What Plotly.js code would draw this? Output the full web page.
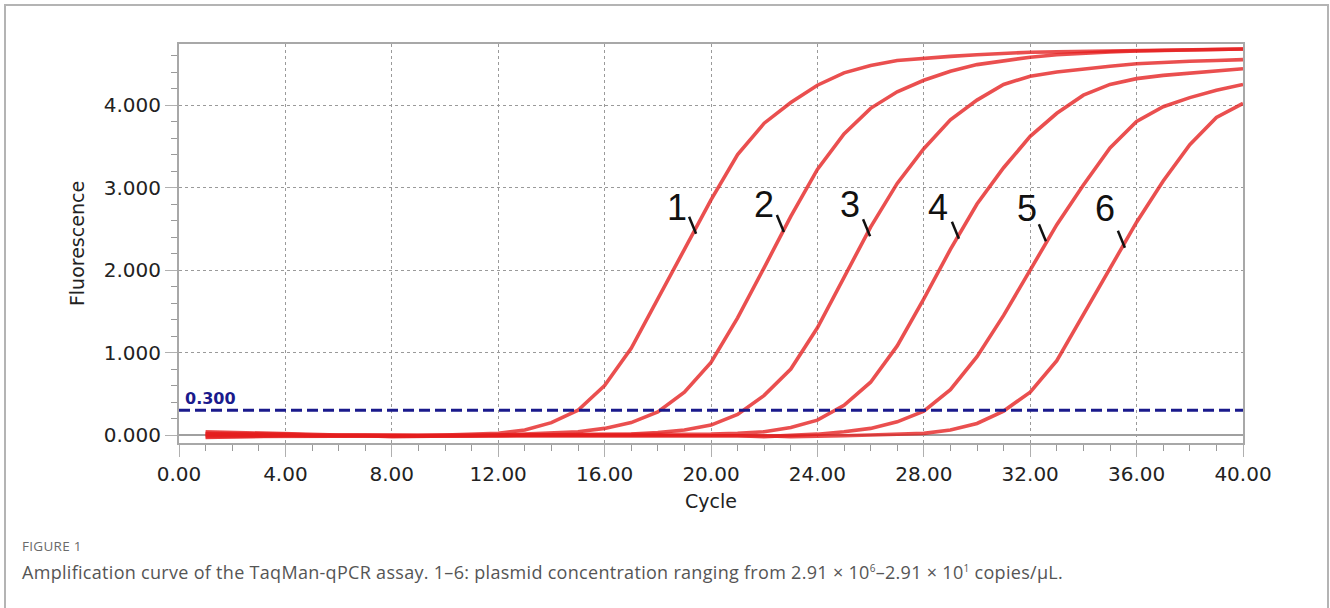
<!DOCTYPE html>
<html>
<head>
<meta charset="utf-8">
<script src="https://cdn.plot.ly/plotly-3.0.1.min.js"></script>
<style>
  html, body { margin:0; padding:0; background:#fff; overflow:hidden; }
  #wrap { position:relative; width:1330px; height:608px; }
  #chart { position:absolute; left:0; top:0; width:1330px; height:608px; }
  #frame { position:absolute; left:4px; top:4px; width:1321px; height:700px; border:2px solid #b4b4b4; pointer-events:none; }
  .cap1 { position:absolute; left:22px; top:537px; font-family:'Open Sans',sans-serif; font-size:13.5px; color:#6a6a6a; letter-spacing:0.3px; }
  .cap2 { position:absolute; left:22px; top:560px; font-family:'Open Sans',sans-serif; font-size:18px; color:#555; white-space:nowrap; letter-spacing:0.3px; }
  .cap2 sup { font-size:10px; vertical-align:7px; line-height:0; }
</style>
</head>
<body>
<div id="wrap">
  <div id="chart"></div>
  <div id="frame"></div>
  <div class="cap1">FIGURE 1</div>
  <div class="cap2">Amplification curve of the TaqMan-qPCR assay. 1–6: plasmid concentration ranging from 2.91 × 10<sup>6</sup>–2.91 × 10<sup>1</sup> copies/μL.</div>
</div>
<script>
// ---- data ----
const cycles = [1,2,3,4,5,6,7,8,9,10,11,12,13,14,15,16,17,18,19,20,21,22,23,24,25,26,27,28,29,30,31,32,33,34,35,36,37,38,39,40];

const curve1 = [0.04,0.03,0.02,0.01,0.01,0.00,0.00,-0.01,-0.01,0.00,0.01,0.02,0.06,0.15,0.30,0.60,1.05,1.65,2.25,2.85,3.40,3.78,4.03,4.24,4.39,4.48,4.54,4.57,4.59,4.61,4.63,4.64,4.645,4.65,4.655,4.66,4.665,4.67,4.675,4.68];
const curve2 = [0.02,0.02,0.01,0.01,0.00,0.00,-0.01,-0.01,-0.01,-0.01,0.00,0.00,0.01,0.02,0.04,0.08,0.15,0.28,0.52,0.88,1.42,2.03,2.65,3.22,3.65,3.96,4.16,4.30,4.41,4.49,4.54,4.58,4.61,4.63,4.645,4.655,4.66,4.67,4.675,4.68];
const curve3 = [0.00,0.00,0.00,0.00,0.00,-0.01,-0.01,-0.02,-0.02,-0.01,-0.01,0.00,0.00,0.00,0.00,0.00,0.01,0.03,0.06,0.12,0.25,0.48,0.80,1.30,1.90,2.52,3.05,3.47,3.82,4.06,4.25,4.35,4.40,4.44,4.47,4.50,4.52,4.53,4.54,4.55];
const curve4 = [-0.02,-0.02,-0.01,-0.01,-0.01,-0.01,-0.02,-0.02,-0.02,-0.02,-0.01,-0.01,0.00,0.00,0.00,0.00,0.00,0.00,0.00,0.01,0.02,0.04,0.09,0.18,0.36,0.64,1.08,1.65,2.25,2.80,3.24,3.62,3.90,4.12,4.25,4.32,4.36,4.39,4.42,4.44];
const curve5 = [-0.03,-0.02,-0.02,-0.01,-0.01,-0.01,-0.01,-0.01,-0.01,-0.01,-0.01,-0.01,-0.01,0.00,0.00,0.00,0.00,0.00,0.00,0.00,-0.01,-0.02,-0.01,0.01,0.04,0.08,0.16,0.29,0.55,0.95,1.45,2.00,2.55,3.03,3.48,3.80,3.98,4.09,4.18,4.25];
const curve6 = [0.01,0.01,0.00,0.00,-0.01,-0.01,-0.01,-0.01,-0.01,0.00,0.00,0.00,0.00,0.00,0.00,0.00,0.00,0.00,0.00,0.00,-0.01,-0.01,-0.02,-0.02,-0.01,0.00,0.01,0.02,0.06,0.14,0.29,0.52,0.90,1.46,2.02,2.58,3.08,3.52,3.85,4.02];

const thresholdX = [0, 40];
const thresholdY = [0.3, 0.3];
const thresholdLabel = '0.300';

const curveLabels = ['1','2','3','4','5','6'];
const labelTickCycle = [19.44, 22.74, 25.98, 29.32, 32.59, 35.56];
const labelTickValue = [2.44, 2.46, 2.41, 2.38, 2.35, 2.27];
const labelTextCycle = [18.72, 21.99, 25.23, 28.52, 31.88, 34.81];
const labelTextValue = [2.76, 2.79, 2.79, 2.76, 2.74, 2.74];

// ---- traces ----
const curves = [curve1, curve2, curve3, curve4, curve5, curve6];
const red = 'rgba(228,30,30,0.78)';
const traces = curves.map((ys, i) => ({
  x: cycles, y: ys, type: 'scatter', mode: 'lines',
  line: { color: red, width: 3.6 }, name: curveLabels[i], hoverinfo: 'skip'
}));
traces.push({
  x: thresholdX, y: thresholdY, type: 'scatter', mode: 'lines',
  line: { color: '#1a1a8c', width: 3, dash: '11px,5px' }, hoverinfo: 'skip'
});

const annotations = [];
const shapes = [];
curveLabels.forEach((lab, i) => {
  annotations.push({
    x: labelTextCycle[i], y: labelTextValue[i], xref: 'x', yref: 'y',
    text: lab, showarrow: false, xanchor: 'center', yanchor: 'middle',
    font: { family: 'Liberation Sans, Arial, sans-serif', size: 36, color: '#111' }
  });
  shapes.push({
    type: 'line', xref: 'x', yref: 'y', xsizemode: 'pixel', ysizemode: 'pixel',
    xanchor: labelTickCycle[i], yanchor: labelTickValue[i],
    x0: 0, y0: 0, x1: -7, y1: 17,
    line: { color: '#111', width: 2.5 }
  });
});
annotations.push({
  x: thresholdX[0], y: thresholdY[0], xref: 'x', yref: 'y', text: '<b>' + thresholdLabel + '</b>',
  showarrow: false, xanchor: 'left', yanchor: 'bottom', xshift: 4, yshift: 0,
  font: { family: 'DejaVu Sans, sans-serif', size: 16, color: '#1a1a8c' }
});

const tickFont = { family: 'DejaVu Sans, sans-serif', size: 20, color: '#222' };
const layout = {
  width: 1330, height: 608,
  margin: { l: 179, r: 87, t: 44, b: 165, pad: 0 },
  paper_bgcolor: 'rgba(0,0,0,0)', plot_bgcolor: '#fff',
  showlegend: false,
  xaxis: {
    range: [0, 40], tick0: 0, dtick: 4, tickformat: '.2f',
    showgrid: true, gridcolor: '#9a9a9a', griddash: 'dot', gridwidth: 1,
    ticks: 'outside', ticklen: 12, tickcolor: '#b0b0b0', tickwidth: 1,
    minor: { dtick: 1, ticks: 'outside', ticklen: 6, tickcolor: '#9a9a9a', showgrid: false },
    showline: true, linecolor: '#a8a8a8', linewidth: 2, mirror: true,
    zeroline: false, tickfont: tickFont,
    title: { text: 'Cycle', font: { family: 'DejaVu Sans, sans-serif', size: 19, color: '#222' }, standoff: 10 }
  },
  yaxis: {
    range: [-0.097, 4.74], tick0: 0, dtick: 1, tickformat: '.3f',
    showgrid: true, gridcolor: '#9a9a9a', griddash: 'dot', gridwidth: 1,
    ticks: 'outside', ticklen: 12, tickcolor: '#b0b0b0', tickwidth: 1,
    minor: { dtick: 0.2, ticks: 'outside', ticklen: 6, tickcolor: '#9a9a9a', showgrid: false },
    showline: true, linecolor: '#a8a8a8', linewidth: 2, mirror: true,
    zeroline: true, zerolinecolor: '#a0a0a0', zerolinewidth: 1.5,
    tickfont: tickFont,
    title: { text: 'Fluorescence', font: { family: 'DejaVu Sans, sans-serif', size: 19, color: '#222' }, standoff: 14 }
  },
  annotations: annotations,
  shapes: shapes
};

Plotly.newPlot('chart', traces, layout, { displayModeBar: false, staticPlot: true });
</script>
</body>
</html>
